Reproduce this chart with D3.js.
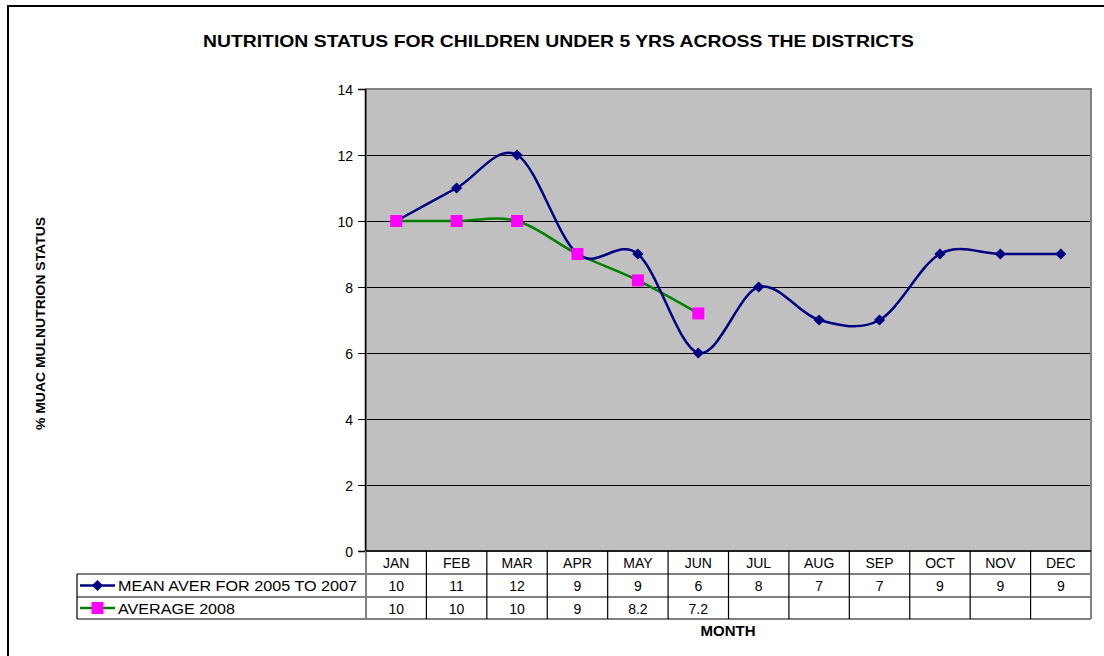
<!DOCTYPE html>
<html>
<head>
<meta charset="utf-8">
<script src="https://cdn.jsdelivr.net/npm/d3@7"></script>
<style>
  body { margin: 0; background: #fff; }
  svg text { font-family: "Liberation Sans", Arial, sans-serif; fill: #000; }
</style>
</head>
<body>
<div id="chart"></div>
<script>
/* chart data */
var months = ["JAN", "FEB", "MAR", "APR", "MAY", "JUN", "JUL", "AUG", "SEP", "OCT", "NOV", "DEC"];
var meanAver = [10, 11, 12, 9, 9, 6, 8, 7, 7, 9, 9, 9];
var average2008 = [10, 10, 10, 9, 8.2, 7.2];
var yTicks = [0, 2, 4, 6, 8, 10, 12, 14];
var seriesNames = ["MEAN AVER FOR 2005 TO 2007", "AVERAGE 2008"];

var W = 1104, H = 656;
var plot = { left: 366, right: 1091, top: 89, bottom: 551 };
var rowH = [23, 23, 22];

var svg = d3.select("#chart").append("svg")
  .attr("width", W)
  .attr("height", H);

/* outer frame */
svg.append("rect")
  .attr("x", 8).attr("y", 6)
  .attr("width", W + 10).attr("height", H + 10)
  .style("fill", "none")
  .style("stroke", "#000")
  .style("stroke-width", 2);

/* scales */
var x = d3.scaleBand().domain(months).range([plot.left, plot.right]);
var y = d3.scaleLinear().domain([0, 14]).range([plot.bottom, plot.top]);

/* plot area */
svg.append("rect")
  .attr("x", plot.left).attr("y", plot.top)
  .attr("width", plot.right - plot.left).attr("height", plot.bottom - plot.top)
  .style("fill", "#c0c0c0");

/* gridlines */
svg.selectAll(".grid")
  .data(yTicks.filter(function (d) { return d > 0 && d < 14; }))
  .enter().append("line")
  .attr("x1", plot.left).attr("x2", plot.right)
  .attr("y1", function (d) { return Math.round(y(d)) + 0.5; })
  .attr("y2", function (d) { return Math.round(y(d)) + 0.5; })
  .style("stroke", "#000")
  .style("stroke-width", 1);

svg.append("rect")
  .attr("x", plot.left).attr("y", plot.top)
  .attr("width", plot.right - plot.left).attr("height", plot.bottom - plot.top)
  .style("fill", "none")
  .style("stroke", "#808080")
  .style("stroke-width", 2);

/* y axis */
var yAxis = svg.append("g")
  .attr("transform", "translate(" + (plot.left - 1) + ",0)")
  .call(d3.axisLeft(y).tickValues(yTicks).tickSize(7).tickPadding(5));
yAxis.select(".domain").style("stroke", "#000").style("stroke-width", 1.5);
yAxis.selectAll("line").style("stroke", "#000");
yAxis.selectAll("text")
  .style("font-size", "14px")
  .style("font-family", "Liberation Sans, Arial, sans-serif")
  .attr("dy", "0.36em");

/* data table */
var tableTop = plot.bottom;
var legendLeft = 77;
var rows = [
  { y0: tableTop, h: rowH[0] },
  { y0: tableTop + rowH[0], h: rowH[1] },
  { y0: tableTop + rowH[0] + rowH[1], h: rowH[2] }
];
var tableBottom = rows[2].y0 + rows[2].h;
var grid = svg.append("g").style("stroke", "#000").style("stroke-width", 1.2);

/* horizontal lines */
[rows[1].y0, rows[2].y0, tableBottom].forEach(function (yy) {
  grid.append("line").attr("x1", legendLeft).attr("x2", plot.right).attr("y1", yy).attr("y2", yy);
});
/* vertical lines */
months.forEach(function (m, i) {
  if (i === 0) return;
  grid.append("line").attr("x1", x(m)).attr("x2", x(m)).attr("y1", tableTop).attr("y2", tableBottom);
});
grid.append("line").attr("x1", plot.left).attr("x2", plot.left).attr("y1", tableTop).attr("y2", tableBottom).style("stroke", "#808080").style("stroke-width", 2);
grid.append("line").attr("x1", plot.right).attr("x2", plot.right).attr("y1", tableTop).attr("y2", tableBottom).style("stroke", "#808080").style("stroke-width", 2);
grid.append("line").attr("x1", legendLeft).attr("x2", legendLeft).attr("y1", rows[1].y0).attr("y2", tableBottom);
grid.append("line").attr("x1", plot.left).attr("x2", plot.right).attr("y1", tableTop).attr("y2", tableTop).style("stroke-width", 1.5);

/* month labels */
svg.selectAll(".month")
  .data(months)
  .enter().append("text")
  .attr("x", function (d) { return x(d) + x.bandwidth() / 2; })
  .attr("y", rows[0].y0 + rows[0].h / 2 + 5.5)
  .style("font-size", "14px")
  .style("text-anchor", "middle")
  .text(function (d) { return d; });

/* value rows */
[meanAver, average2008].forEach(function (vals, r) {
  svg.selectAll(".val" + r)
    .data(vals)
    .enter().append("text")
    .attr("x", function (d, i) { return x(months[i]) + x.bandwidth() / 2; })
    .attr("y", rows[r + 1].y0 + rows[r + 1].h / 2 + 5.5)
    .style("font-size", "14px")
    .style("text-anchor", "middle")
    .text(function (d) { return d; });
});

/* series */
var line = d3.line()
  .x(function (d, i) { return x(months[i]) + x.bandwidth() / 2; })
  .y(function (d) { return y(d); })
  .curve(d3.curveCardinal.tension(0));

svg.append("path")
  .datum(average2008)
  .attr("d", line)
  .style("fill", "none")
  .style("stroke", "#008000")
  .style("stroke-width", 2.5);

svg.append("path")
  .datum(meanAver)
  .attr("d", line)
  .style("fill", "none")
  .style("stroke", "#000080")
  .style("stroke-width", 2.5);

var diamond = d3.symbol().type(d3.symbolDiamond2).size(80);
svg.selectAll(".dmark")
  .data(meanAver)
  .enter().append("path")
  .attr("d", diamond)
  .attr("transform", function (d, i) { return "translate(" + (x(months[i]) + x.bandwidth() / 2) + "," + y(d) + ")"; })
  .style("fill", "#000080");

svg.selectAll(".smark")
  .data(average2008)
  .enter().append("rect")
  .attr("x", function (d, i) { return x(months[i]) + x.bandwidth() / 2 - 6; })
  .attr("y", function (d) { return y(d) - 6; })
  .attr("width", 12).attr("height", 12)
  .style("fill", "#ff00ff");

/* legend keys in table */
var keyX0 = 80, keyX1 = 115;
[{ c: "#000080", r: 1 }, { c: "#008000", r: 2 }].forEach(function (k, i) {
  var cy = rows[k.r].y0 + rows[k.r].h / 2;
  svg.append("line").attr("x1", keyX0).attr("x2", keyX1).attr("y1", cy).attr("y2", cy)
    .style("stroke", k.c).style("stroke-width", 2.5);
  if (i === 0) {
    svg.append("path").attr("d", diamond).attr("transform", "translate(" + ((keyX0 + keyX1) / 2) + "," + cy + ")").style("fill", "#000080");
  } else {
    svg.append("rect").attr("x", (keyX0 + keyX1) / 2 - 6).attr("y", cy - 6).attr("width", 12).attr("height", 12).style("fill", "#ff00ff");
  }
  var t = svg.append("text")
    .attr("x", 118)
    .attr("y", cy + 5.5)
    .style("font-size", "15px")
    .text(seriesNames[i]);
  if (i === 0) t.attr("textLength", 239).attr("lengthAdjust", "spacingAndGlyphs");
  else t.attr("textLength", 117).attr("lengthAdjust", "spacingAndGlyphs");
});

/* titles */
svg.append("text")
  .attr("x", 203).attr("y", 47)
  .attr("textLength", 711)
  .attr("lengthAdjust", "spacingAndGlyphs")
  .style("font-size", "16.5px")
  .style("font-weight", "bold")
  .text("NUTRITION STATUS FOR CHILDREN UNDER 5 YRS ACROSS THE DISTRICTS");

svg.append("text")
  .attr("transform", "translate(45,430) rotate(-90)")
  .attr("textLength", 213)
  .attr("lengthAdjust", "spacingAndGlyphs")
  .style("font-size", "13px")
  .style("font-weight", "bold")
  .text("% MUAC  MULNUTRION STATUS");

svg.append("text")
  .attr("x", 728).attr("y", 636)
  .style("font-size", "15px")
  .style("font-weight", "bold")
  .style("text-anchor", "middle")
  .text("MONTH");
</script>
</body>
</html>
